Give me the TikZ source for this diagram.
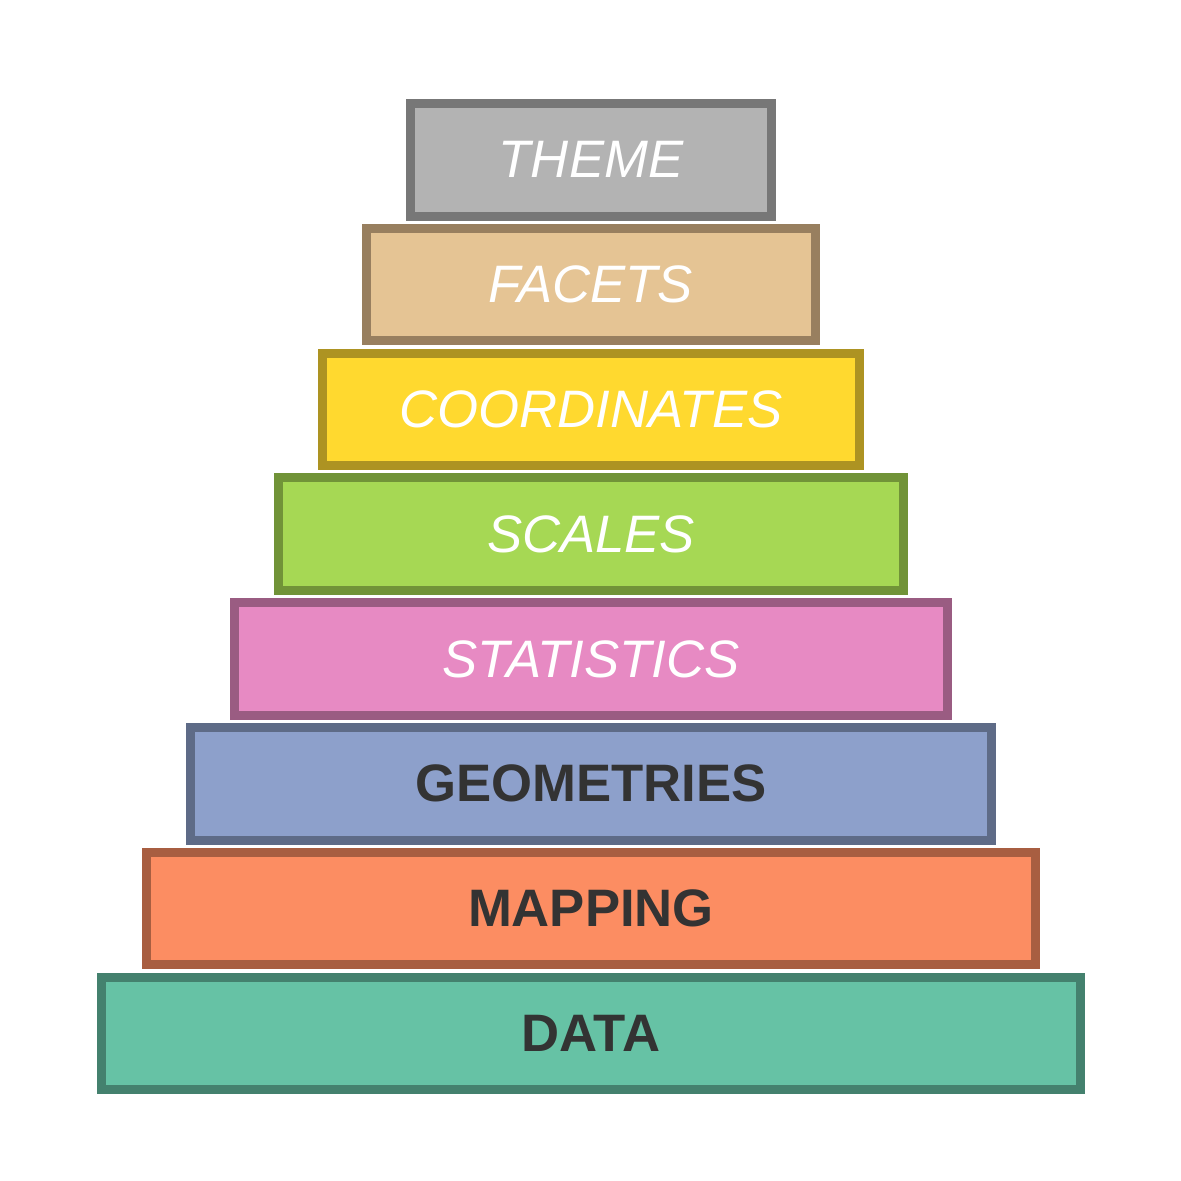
\documentclass[tikz,border=0pt]{standalone}
\usepackage{fontspec}
\setmainfont{Liberation Sans}
\usepackage{tikz}

\definecolor{themefill}{HTML}{B3B3B3}
\definecolor{themeline}{HTML}{777777}
\definecolor{facetfill}{HTML}{E5C494}
\definecolor{facetline}{HTML}{987F5F}
\definecolor{coordfill}{HTML}{FFD92F}
\definecolor{coordline}{HTML}{AD9322}
\definecolor{scalefill}{HTML}{A6D854}
\definecolor{scaleline}{HTML}{719338}
\definecolor{statfill}{HTML}{E78AC3}
\definecolor{statline}{HTML}{9A5C82}
\definecolor{geomfill}{HTML}{8DA0CB}
\definecolor{geomline}{HTML}{5E6B87}
\definecolor{mapfill}{HTML}{FC8D62}
\definecolor{mapline}{HTML}{A85E41}
\definecolor{datafill}{HTML}{66C2A5}
\definecolor{dataline}{HTML}{44816E}
\definecolor{darktext}{HTML}{333333}

\tikzset{
  layer/.style={rectangle, line width=0.18cm, minimum height=2.25cm,
    inner sep=0pt, font=\fontsize{30}{36}\selectfont},
  upper/.style={layer, text=white, font=\fontsize{30}{36}\selectfont\itshape},
  lower/.style={layer, text=darktext, font=\fontsize{30}{36}\selectfont\bfseries}
}

\begin{document}
\begin{tikzpicture}[x=0.02cm, y=-0.02cm]
  \useasboundingbox (0,0) rectangle (1181,1181);
  % Theme
  \node[upper, draw=themeline, fill=themefill, minimum width=7.22cm] (theme) at (591,159.8) {THEME};
  % Facets
  \node[upper, draw=facetline, fill=facetfill, minimum width=8.98cm] (facets) at (591,284.6) {FACETS};
  % Coordinates
  \node[upper, draw=coordline, fill=coordfill, minimum width=10.75cm] (coords) at (591,409.4) {COORDINATES};
  % Scales
  \node[upper, draw=scaleline, fill=scalefill, minimum width=12.51cm] (scales) at (591,534.2) {SCALES};
  % Statistics
  \node[upper, draw=statline, fill=statfill, minimum width=14.28cm] (stats) at (591,659.0) {STATISTICS};
  % Geometries
  \node[lower, draw=geomline, fill=geomfill, minimum width=16.04cm] (geoms) at (591,783.8) {GEOMETRIES};
  % Mapping
  \node[lower, draw=mapline, fill=mapfill, minimum width=17.80cm] (mapping) at (591,908.6) {MAPPING};
  % Data
  \node[lower, draw=dataline, fill=datafill, minimum width=19.57cm] (data) at (591,1033.4) {DATA};
\end{tikzpicture}
\end{document}
